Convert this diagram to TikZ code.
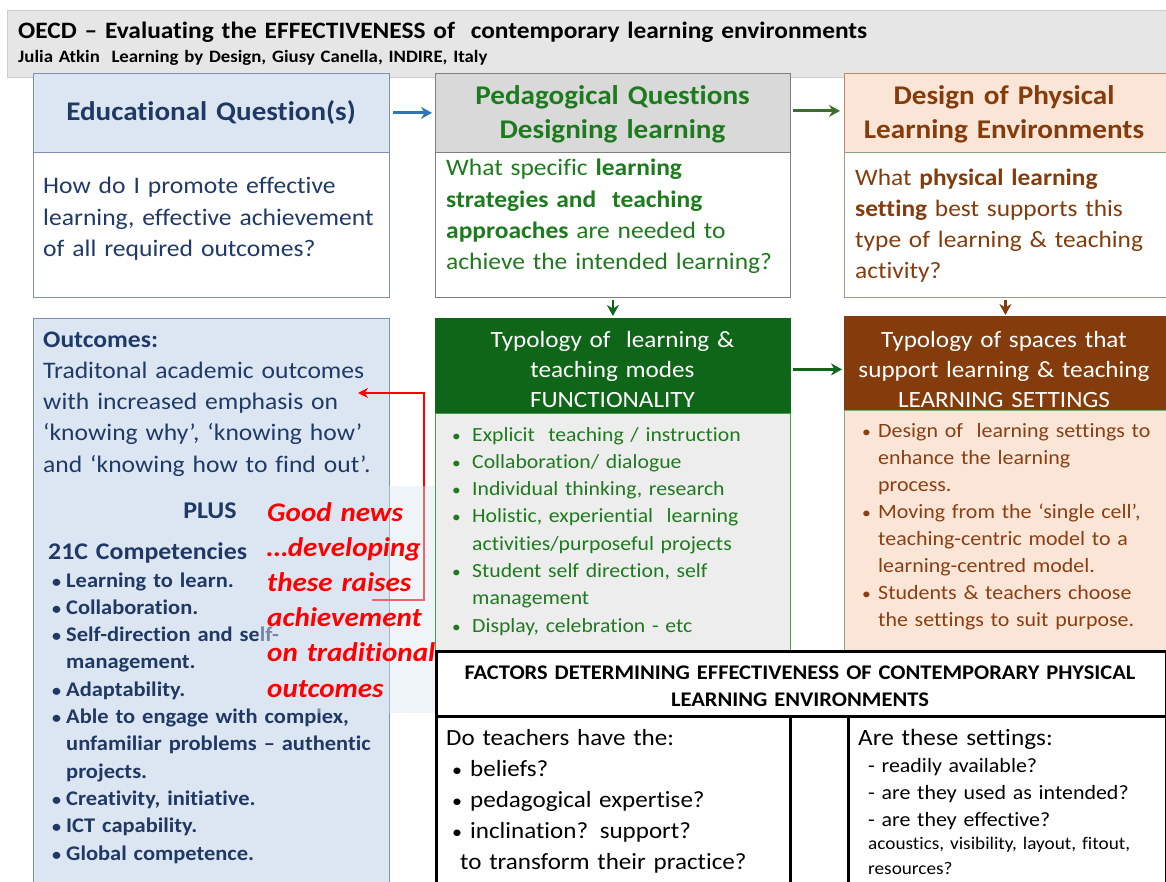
\documentclass[tikz,border=0pt]{standalone}
\usepackage{fontspec}
\setmainfont{Carlito}[Ligatures=NoCommon, FakeStretch=1.08]
\usetikzlibrary{arrows.meta}
\definecolor{navy}{HTML}{1F3864}
\definecolor{navytx}{HTML}{203A68}
\definecolor{grn}{HTML}{1E7A1E}
\definecolor{dkgrn}{HTML}{0F6619}
\definecolor{brn}{HTML}{843C0C}
\definecolor{brntx}{HTML}{8A3E12}
\definecolor{peach}{HTML}{FBE5D6}
\definecolor{ltblue}{HTML}{DCE6F2}
\definecolor{hdgray}{HTML}{D9D9D9}
\definecolor{bdgray}{HTML}{EDEDED}
\definecolor{band}{HTML}{E6E6E6}
\definecolor{bandln}{HTML}{CDCDCD}
\definecolor{bluebd}{HTML}{7F90AE}
\definecolor{graybd}{HTML}{7F7F7F}
\definecolor{brnbd}{HTML}{C08A6A}
\definecolor{olivebd}{HTML}{8FA382}
\definecolor{grnbd}{HTML}{4C9A4C}
\definecolor{arrblue}{HTML}{2E75B6}
\definecolor{arrgrn}{HTML}{3C6E2E}
\definecolor{ovl}{HTML}{DCE6F2}
\newcommand\bul[1]{\makebox[#1][l]{\scalebox{0.8}{\textbullet}}}
\begin{document}
\begin{tikzpicture}[x=1pt,y=-1pt,
  box/.style={draw, anchor=north west, inner sep=0pt, line width=0.8pt},
  tx/.style={anchor=base west, inner sep=0pt, align=left, text width=#1},
  ctx/.style={anchor=base, inner sep=0pt, align=center, text width=#1},
  arr/.style={-{Stealth[length=11pt,width=12pt]}, line width=2.8pt},
]
\useasboundingbox (0,0) rectangle (1166,882);
\clip (0,0) rectangle (1166,882);
% title band
\node[box, draw=bandln, fill=band, minimum width=1170pt, minimum height=67pt] (band) at (7,10) {};
\node[tx=1100pt, font=\fontsize{23.5}{26}\selectfont\bfseries] (title) at (18,39) {OECD – Evaluating the EFFECTIVENESS of \ contemporary learning environments};
\node[tx=1000pt, font=\fontsize{17.4}{20}\selectfont\bfseries] (sub) at (18,63) {Julia Atkin \ Learning by Design, Giusy Canella, INDIRE, Italy};
% column A
\node[box, draw=bluebd, fill=ltblue, minimum width=356pt, minimum height=79pt] (Ahd) at (33,73) {};
\node[box, draw=bluebd, fill=white, minimum width=356pt, minimum height=145pt] (Abd) at (33,152) {};
\node[ctx=356pt, text=navy, font=\fontsize{26.9}{34}\selectfont\bfseries] (Aht) at (211,121) {Educational Question(s)};
\node[tx=345pt, text=navytx, font=\fontsize{23.7}{31.5}\selectfont] (Abt) at (43,194) {How do I promote effective\\learning, effective achievement\\of all required outcomes?};
% column B
\node[box, draw=graybd, fill=hdgray, minimum width=355pt, minimum height=79pt] (Bhd) at (435,73) {};
\node[box, draw=graybd, fill=white, minimum width=355pt, minimum height=145pt] (Bbd) at (435,152) {};
\node[ctx=355pt, text=grn, font=\fontsize{27}{34}\selectfont\bfseries] (Bht) at (612.5,105) {Pedagogical Questions\\Designing learning};
\node[tx=345pt, text=grn, font=\fontsize{23.6}{31.3}\selectfont] (Bbt) at (446,176) {What specific \textbf{learning}\\\textbf{strategies and \ teaching}\\\textbf{approaches} are needed to\\achieve the intended learning?};
% column C
\node[box, draw=brnbd, fill=peach, minimum width=322pt, minimum height=79pt] (Chd) at (844,73) {};
\node[box, draw=olivebd, fill=white, minimum width=322pt, minimum height=145pt] (Cbd) at (844,152) {};
\node[ctx=322pt, text=brn, font=\fontsize{27}{34}\selectfont\bfseries] (Cht) at (1004,105) {Design of Physical\\Learning Environments};
\node[tx=310pt, text=brn, font=\fontsize{23.5}{31}\selectfont] (Cbt) at (855,186) {What \textbf{physical learning}\\\textbf{setting} best supports this\\type of learning \& teaching\\activity?};
% column F (outcomes)
\node[box, draw=bluebd, fill=ltblue, minimum width=356pt, minimum height=600pt] (F) at (33,318) {};
\node[tx=345pt, text=navytx, font=\fontsize{23.7}{31.3}\selectfont] (Ft) at (43,347) {\textbf{Outcomes:}\\Traditonal academic outcomes\\with increased emphasis on\\‘knowing why’, ‘knowing how’\\and ‘knowing how to find out’.};
\node[anchor=base, inner sep=0pt, text=navy, font=\fontsize{24}{26}\selectfont\bfseries] (plus) at (210,518) {PLUS};
\node[tx=300pt, text=navy, font=\fontsize{23.9}{26}\selectfont\bfseries] (c21) at (48,559) {21C Competencies};
\node[tx=340pt, text=navy, font=\fontsize{20.8}{27.3}\selectfont\bfseries] (Fb) at (52,587) {\bul{14pt}Learning to learn.\\\bul{14pt}Collaboration.\\\bul{14pt}Self-direction and self-\\\hspace*{14pt}management.\\\bul{14pt}Adaptability.\\\bul{14pt}Able to engage with complex,\\\hspace*{14pt}unfamiliar problems – authentic\\\hspace*{14pt}projects.\\\bul{14pt}Creativity, initiative.\\\bul{14pt}ICT capability.\\\bul{14pt}Global competence.};
% red connector
\coordinate (rs) at (372,600);
\coordinate (rc) at (424,393);
\coordinate (rt) at (358,393);
\draw[red, line width=2.2pt, -{Stealth[length=10pt,width=10pt]}] (rs) -| (rc) -- (rt);
% overlay text box
\fill[ovl, opacity=0.45] (258,486) rectangle (436,713);
\node[tx=220pt, text=red, font=\fontsize{26.9}{35.2}\selectfont\bfseries\itshape] (good) at (267,521) {Good news\\…developing\\these raises\\achievement\\on traditional\\outcomes};
% column D
\node[box, draw=dkgrn, fill=dkgrn, minimum width=355pt, minimum height=95pt] (Dhd) at (435,318) {};
\node[box, draw=grnbd, fill=bdgray, minimum width=355pt, minimum height=250pt] (Dbd) at (435,413) {};
\node[ctx=355pt, text=white, font=\fontsize{23.3}{30}\selectfont] (Dht) at (612.5,347) {Typology of \ learning \&\\teaching modes\\FUNCTIONALITY};
\node[tx=340pt, text=grn, font=\fontsize{20.1}{27.3}\selectfont] (Dbt) at (452,441) {\bul{20pt}Explicit \ teaching / instruction\\\bul{20pt}Collaboration/ dialogue\\\bul{20pt}Individual thinking, research\\\bul{20pt}Holistic, experiential \ learning\\\hspace*{20pt}activities/purposeful projects\\\bul{20pt}Student self direction, self\\\hspace*{20pt}management\\\bul{20pt}Display, celebration - etc};
% column E
\node[box, draw=brn, fill=brn, minimum width=322pt, minimum height=94pt] (Ehd) at (844,316) {};
\node[box, draw=olivebd, fill=peach, minimum width=322pt, minimum height=250pt] (Ebd) at (844,410) {};
\node[ctx=322pt, text=white, font=\fontsize{23.3}{30}\selectfont] (Eht) at (1004,347) {Typology of spaces that\\support learning \& teaching\\LEARNING SETTINGS};
\node[tx=300pt, text=brntx, font=\fontsize{20.3}{27.1}\selectfont] (Ebt) at (862,437) {\bul{16pt}Design of \ learning settings to\\\hspace*{16pt}enhance the learning\\\hspace*{16pt}process.\\\bul{16pt}Moving from the ‘single cell’,\\\hspace*{16pt}teaching-centric model to a\\\hspace*{16pt}learning-centred model.\\\bul{16pt}Students \& teachers choose\\\hspace*{16pt}the settings to suit purpose.};
% arrows
\draw[arr, arrblue, shorten <=3pt, shorten >=3pt] (Ahd) -- (Bhd);
\draw[arr, arrgrn, shorten <=2pt, shorten >=4pt] ([yshift=2pt]Bhd.east) -- ([yshift=2pt]Chd.west);
\draw[arr, dkgrn, line width=2.4pt, shorten <=2pt, shorten >=2pt] (Bbd) -- (Dhd);
\draw[arr, brn, line width=2.4pt, shorten <=2pt, shorten >=1pt] (Cbd) -- (Ehd);
\draw[arr, dkgrn, shorten <=2pt, shorten >=2pt] ([yshift=-3.5pt]Dhd.east) -- ([yshift=-3.5pt]Dhd.east -| Ehd.west);
% factors table
\node[box, draw=black, line width=3pt, fill=white, minimum width=730pt, minimum height=260pt] (fac) at (435,650) {};
\draw[line width=3pt] (fac.west |- 0,716) -- (fac.east |- 0,716);
\draw[line width=3pt] (790,716) -- (790,890);
\draw[line width=3pt] (848,716) -- (848,890);
\node[ctx=725pt, font=\fontsize{20.8}{27}\selectfont\bfseries] (fact) at (800,679) {FACTORS DETERMINING EFFECTIVENESS OF CONTEMPORARY PHYSICAL\\LEARNING ENVIRONMENTS};
\node[tx=340pt, font=\fontsize{23.2}{31.2}\selectfont] (fl) at (446,745) {Do teachers have the:\\\hspace*{6pt}\bul{18pt}beliefs?\\\hspace*{6pt}\bul{18pt}pedagogical expertise?\\\hspace*{6pt}\bul{18pt}inclination? support?\\\hspace*{14pt}to transform their practice?};
\node[tx=300pt, font=\fontsize{23.4}{27}\selectfont] (fr) at (858,745) {Are these settings:};
\node[tx=300pt, font=\fontsize{20.3}{27}\selectfont] (frd) at (868,772) {- readily available?\\- are they used as intended?\\- are they effective?};
\node[tx=300pt, font=\fontsize{17.8}{25}\selectfont] (frs) at (868,849) {acoustics, visibility, layout, fitout,\\resources?};
\end{tikzpicture}
\end{document}
